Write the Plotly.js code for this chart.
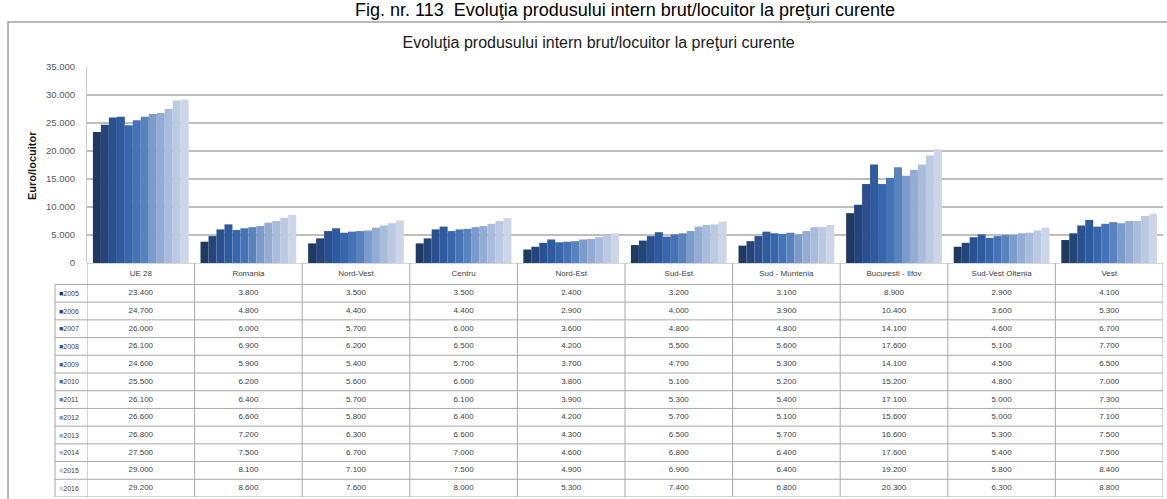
<!DOCTYPE html>
<html>
<head>
<meta charset="utf-8">
<script src="https://cdn.plot.ly/plotly-3.0.1.min.js"></script>
<style>html,body{margin:0;padding:0;background:#fff;}#chart{width:1167px;height:499px;}</style>
</head>
<body>
<div id="chart"></div>
<script>
// ---- data ----
const years = ['2005','2006','2007','2008','2009','2010','2011','2012','2013','2014','2015','2016'];
const categories = ['UE 28','Romania','Nord-Vest','Centru','Nord-Est','Sud-Est','Sud - Muntenia','Bucuresti - Ilfov','Sud-Vest Oltenia','Vest'];
const ue28          = [23400, 24700, 26000, 26100, 24600, 25500, 26100, 26600, 26800, 27500, 29000, 29200];
const romania       = [3800, 4800, 6000, 6900, 5900, 6200, 6400, 6600, 7200, 7500, 8100, 8600];
const nordVest      = [3500, 4400, 5700, 6200, 5400, 5600, 5700, 5800, 6300, 6700, 7100, 7600];
const centru        = [3500, 4400, 6000, 6500, 5700, 6000, 6100, 6400, 6600, 7000, 7500, 8000];
const nordEst       = [2400, 2900, 3600, 4200, 3700, 3800, 3900, 4200, 4300, 4600, 4900, 5300];
const sudEst        = [3200, 4000, 4800, 5500, 4700, 5100, 5300, 5700, 6500, 6800, 6900, 7400];
const sudMuntenia   = [3100, 3900, 4800, 5600, 5300, 5200, 5400, 5100, 5700, 6400, 6400, 6800];
const bucurestiIlfov= [8900, 10400, 14100, 17600, 14100, 15200, 17100, 15600, 16600, 17600, 19200, 20300];
const sudVestOltenia= [2900, 3600, 4600, 5100, 4500, 4800, 5000, 5000, 5300, 5400, 5800, 6300];
const vest          = [4100, 5300, 6700, 7700, 6500, 7000, 7300, 7100, 7500, 7500, 8400, 8800];
const yTicks = [0, 5000, 10000, 15000, 20000, 25000, 30000, 35000];

// ---- styles ----
const seriesByCategory = [ue28, romania, nordVest, centru, nordEst, sudEst, sudMuntenia, bucurestiIlfov, sudVestOltenia, vest];
const colors = ['#1f3a60','#24457a','#2a508f','#2e5a9e','#3766ac','#4573b5','#5a83bd','#7b9bcb','#94acd4','#a9bcdc','#bcc9e2','#cdd5e8'];
const narrow = '"Liberation Sans Narrow", "Liberation Sans", Arial, sans-serif';
const sans = '"Liberation Sans", Arial, sans-serif';

const traces = [];
years.forEach((yr, i) => {
  traces.push({
    type: 'bar', name: yr, x: categories,
    y: seriesByCategory.map(s => s[i]),
    marker: {color: colors[i], line: {width: 0}},
    xaxis: 'x', yaxis: 'y', showlegend: false, hoverinfo: 'x+y+name'
  });
});

// table header
traces.push({
  type: 'scatter', mode: 'text', x: categories, y: categories.map(() => -0.105),
  text: categories, xaxis: 'x', yaxis: 'y2', cliponaxis: false,
  textfont: {family: narrow, size: 8, color: '#404040'}, showlegend: false, hoverinfo: 'skip'
});
// table cells
years.forEach((yr, i) => {
  traces.push({
    type: 'scatter', mode: 'text', x: categories, y: categories.map(() => i + 1),
    customdata: seriesByCategory.map(s => s[i]),
    texttemplate: '%{customdata:,d}', xaxis: 'x', yaxis: 'y2', cliponaxis: false,
    textfont: {family: narrow, size: 8, color: '#404040'}, showlegend: false, hoverinfo: 'skip'
  });
});

const lineCol = '#a8a8a8';
const shapes = [];
// vertical table lines
for (let k = 0; k <= categories.length; k++) {
  shapes.push({type: 'line', xref: 'x', yref: 'y2', x0: k - 0.5, x1: k - 0.5, y0: -0.71, y1: 12.5,
    line: {color: lineCol, width: 1}, layer: 'above'});
}
// horizontal table lines
shapes.push({type: 'line', xref: 'paper', yref: 'y2', x0: 0, x1: 1, y0: -0.71, y1: -0.71, line: {color: lineCol, width: 1}});
for (let r = 0; r <= years.length; r++) {
  shapes.push({type: 'line', xref: 'paper', yref: 'y2', x0: -0.0297, x1: 1, y0: r + 0.5, y1: r + 0.5,
    line: {color: lineCol, width: 1}});
}
shapes.push({type: 'line', xref: 'paper', yref: 'y2', x0: -0.0297, x1: -0.0297, y0: 0.5, y1: 12.5, line: {color: lineCol, width: 1}});
// chart frame
shapes.push({type: 'rect', xref: 'paper', yref: 'paper', x0: -0.0734, x1: 1.02, y0: -0.05, y1: 1.1047,
  line: {color: '#a0a0a0', width: 1.5}, fillcolor: 'rgba(0,0,0,0)', layer: 'below'});

const annotations = [];
years.forEach((yr, i) => {
  annotations.push({xref: 'paper', yref: 'y2', x: -0.0275, y: i + 1, xanchor: 'left', yanchor: 'middle',
    showarrow: false, text: '<span style="color:' + colors[i] + '">■</span>' + yr,
    font: {family: narrow, size: 7, color: '#404040'}});
});
annotations.push({xref: 'paper', yref: 'paper', x: -0.0511, y: 0.7698, textangle: -90, showarrow: false,
  text: '<b>Euro/locuitor</b>', font: {family: sans, size: 11, color: '#1a1a1a'}, xanchor: 'center', yanchor: 'middle'});
annotations.push({xref: 'paper', yref: 'paper', x: 0.5, y: 1.1325, showarrow: false, xanchor: 'center', yanchor: 'middle',
  text: 'Fig. nr. 113  Evoluţia produsului intern brut/locuitor la preţuri curente',
  font: {family: sans, size: 18, color: '#000'}});

const layout = {
  width: 1167, height: 499,
  margin: {l: 87, r: 4, t: 67, b: 2},
  paper_bgcolor: '#fff', plot_bgcolor: '#fff',
  separators: ',.',
  barmode: 'group', bargap: 0.11, bargroupgap: 0,
  title: {text: 'Evoluţia produsului intern brut/locuitor la preţuri curente',
    x: 0.513, xanchor: 'center', y: 0.916, yanchor: 'middle',
    font: {family: sans, size: 16, color: '#1a1a1a'}},
  xaxis: {type: 'category', categoryarray: categories, range: [-0.5, 9.5], anchor: 'y',
    showticklabels: false, showgrid: false, zeroline: false, showline: false, ticks: ''},
  yaxis: {domain: [0.5442, 1], range: [0, 35000], tickvals: yTicks, tickformat: ',d',
    showgrid: true, gridcolor: '#bdbdbd', gridwidth: 1.5, zeroline: false,
    showline: true, linecolor: '#c8c8c8', linewidth: 1, ticks: '', ticklabelstandoff: 9,
    tickfont: {family: sans, size: 9.5, color: '#595959'}},
  yaxis2: {domain: [0, 0.5442], range: [12.5, -0.71], anchor: 'x', showticklabels: false,
    showgrid: false, zeroline: false, showline: false, ticks: ''},
  shapes: shapes, annotations: annotations, showlegend: false
};

Plotly.newPlot('chart', traces, layout, {displayModeBar: false, responsive: false});
</script>
</body>
</html>
